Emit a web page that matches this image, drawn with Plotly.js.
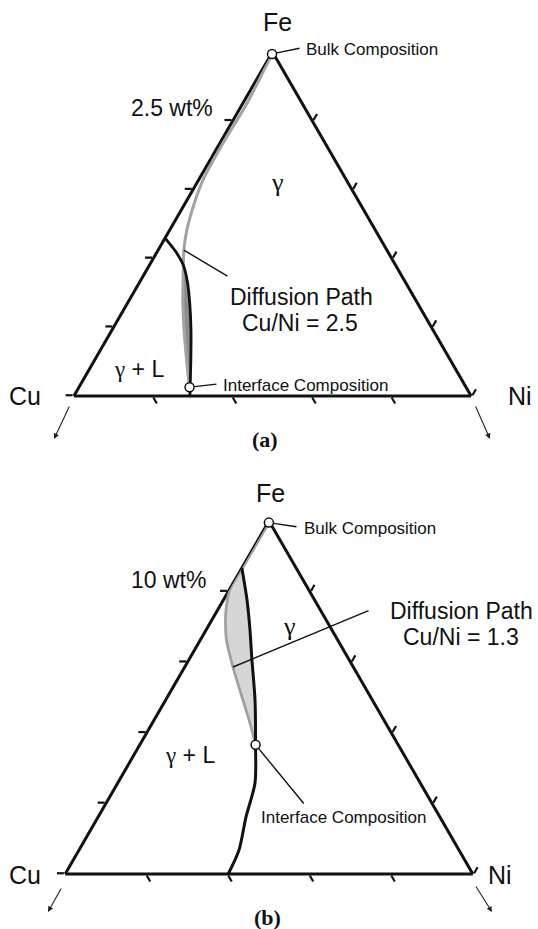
<!DOCTYPE html>
<html>
<head>
<meta charset="utf-8">
<script src="https://cdn.plot.ly/plotly-3.0.1.min.js"></script>
<style>
  html, body { margin: 0; padding: 0; background: #fff; }
  #chart { width: 538px; height: 929px; }
</style>
</head>
<body>
<div id="chart"></div>
<script>
// ---------- (a) Cu/Ni = 2.5, Fe-rich corner (wt%) ----------
const bulkA = { fe: [99.93], cu: [0.05], ni: [0.02] };
const interfaceA = { fe: [87.82], cu: [8.70], ni: [3.48] };

// diffusion path, bulk -> interface
const pathA_Fe = [99.93, 98.14, 96.69, 95.34, 94.36, 93.53, 92.80, 92.25, 91.71, 90.80, 89.70, 88.62, 87.82];
const pathA_Cu = [0.05, 1.73, 3.21, 4.52, 5.32, 5.93, 6.39, 6.68, 6.96, 7.42, 7.92, 8.38, 8.70];
const pathA_Ni = [0.02, 0.13, 0.10, 0.14, 0.32, 0.54, 0.81, 1.07, 1.33, 1.78, 2.38, 3.00, 3.48];

// gamma / gamma+L boundary
const bdyA_Fe = [93.24, 92.73, 92.25, 91.63, 90.80, 89.89, 88.80, 87.50];
const bdyA_Cu = [6.76, 6.67, 6.68, 6.86, 7.20, 7.62, 8.17, 8.85];
const bdyA_Ni = [0.00, 0.60, 1.07, 1.51, 2.00, 2.49, 3.03, 3.65];

const ticksA = { fe: [87.5, 90, 92.5, 95, 97.5], cu: [2.5, 5, 7.5, 10], ni: [2.5, 5, 7.5, 10, 12.5] };

// ---------- (b) Cu/Ni = 1.3, wider composition window (wt%) ----------
const bulkB = { fe: [99.77], cu: [0.13], ni: [0.10] };
const interfaceB = { fe: [68.30], cu: [17.50], ni: [14.20] };

const pathB_Fe = [99.77, 93.48, 90.23, 87.39, 85.27, 83.15, 79.32, 75.07, 71.39, 68.30];
const pathB_Cu = [0.13, 6.45, 9.70, 11.58, 12.70, 13.64, 14.76, 15.78, 16.64, 17.50];
const pathB_Ni = [0.10, 0.07, 0.07, 1.03, 2.03, 3.21, 5.92, 9.15, 11.97, 14.20];

const bdyB_Fe = [93.34, 88.81, 84.56, 80.74, 74.65, 68.30, 62.89, 58.07, 53.40, 50.00];
const bdyB_Cu = [6.66, 8.29, 10.05, 11.75, 14.39, 17.50, 20.27, 23.79, 26.98, 30.00];
const bdyB_Ni = [0.00, 2.90, 5.39, 7.51, 10.96, 14.20, 16.84, 18.14, 19.62, 20.00];

const ticksB = { fe: [50, 60, 70, 80, 90], cu: [10, 20, 30, 40], ni: [10, 20, 30, 40, 50] };

// ---------- page geometry ----------
const W = 538, H = 929;
const SANS = 'Liberation Sans, Arial, sans-serif';
const SERIF = 'Liberation Serif, Times New Roman, serif';
const INK = '#111';
const GAMMA = '<span style="font-family:Liberation Serif, serif">γ</span>';

function domainFromPixels(cx, top, bottom) {
  return { x: [(cx - 215) / W, (cx + 215) / W], y: [1 - bottom / H, 1 - top / H] };
}

function axis(vals, min) {
  return {
    min: min, tickmode: 'array', tickvals: vals, ticks: 'outside', ticklen: 7, tickwidth: 2.2,
    tickcolor: INK, showticklabels: false, showgrid: false, showline: true,
    linecolor: INK, linewidth: 3, layer: 'below traces', title: { text: '' }
  };
}

function ternary(dom, amin, t) {
  return {
    domain: dom, sum: 100, bgcolor: 'rgba(0,0,0,0)',
    aaxis: axis(t.fe, amin), baxis: axis(t.cu, 0), caxis: axis(t.ni, 0)
  };
}

const ternA = ternary(domainFromPixels(272.5, 52, 396), 87.5, ticksA);
const ternB = ternary(domainFromPixels(269, 521, 874), 50, ticksB);

// position of a composition on the page (same rule the ternary subplot uses to fit its triangle)
function compToPixel(tern, fe, cu, ni) {
  const [x0f, x1f] = tern.domain.x, [y0f, y1f] = tern.domain.y;
  const hmax = (y1f - y0f) * H, wmax = (x1f - x0f) * W;
  let h, w;
  if (wmax > hmax * 2 / Math.sqrt(3)) { h = hmax; w = h * 2 / Math.sqrt(3); }
  else { w = wmax; h = w * Math.sqrt(3) / 2; }
  const X0 = W * (x0f + x1f) / 2 - w / 2, Y0 = H * (1 - (y0f + y1f) / 2) - h / 2;
  const span = 100 - tern.aaxis.min;
  const a = (fe - tern.aaxis.min) / span, c = ni / span;
  return [X0 + w * (c + a / 2), Y0 + h * (1 - a)];
}

function slice(fe, cu, ni, i, j) {
  return { a: fe.slice(i, j), b: cu.slice(i, j), c: ni.slice(i, j) };
}

function bandTrace(sub, path, bdy, color) {
  return {
    type: 'scatterternary', subplot: sub, mode: 'lines', fill: 'toself', fillcolor: color,
    a: path.a.concat(bdy.a.slice().reverse()),
    b: path.b.concat(bdy.b.slice().reverse()),
    c: path.c.concat(bdy.c.slice().reverse()),
    line: { width: 0, shape: 'spline', smoothing: 0.6 }, hoverinfo: 'skip'
  };
}

function lineTrace(sub, fe, cu, ni, color, width) {
  return {
    type: 'scatterternary', subplot: sub, mode: 'lines', a: fe, b: cu, c: ni,
    line: { color: color, width: width, shape: 'spline', smoothing: 0.8 }, hoverinfo: 'skip'
  };
}

function pointTrace(sub, pts) {
  return {
    type: 'scatterternary', subplot: sub, mode: 'markers', cliponaxis: false,
    a: pts.map(p => p.fe[0]), b: pts.map(p => p.cu[0]), c: pts.map(p => p.ni[0]),
    marker: { symbol: 'circle', size: 9, color: '#fff', line: { color: INK, width: 1.5 } },
    hoverinfo: 'skip'
  };
}

const traces = [
  // (a)
  bandTrace('ternary',
    slice(pathA_Fe, pathA_Cu, pathA_Ni, 7),
    slice(bdyA_Fe, bdyA_Cu, bdyA_Ni, 2, 7), '#8c8c8c'),
  lineTrace('ternary', pathA_Fe, pathA_Cu, pathA_Ni, '#a3a3a3', 3),
  lineTrace('ternary', bdyA_Fe, bdyA_Cu, bdyA_Ni, INK, 2.8),
  pointTrace('ternary', [bulkA, interfaceA]),
  // (b)
  bandTrace('ternary2',
    slice(pathB_Fe, pathB_Cu, pathB_Ni, 1),
    slice(bdyB_Fe, bdyB_Cu, bdyB_Ni, 0, 5), '#d6d6d6'),
  lineTrace('ternary2', pathB_Fe, pathB_Cu, pathB_Ni, '#a0a0a0', 2.8),
  lineTrace('ternary2', bdyB_Fe, bdyB_Cu, bdyB_Ni, INK, 3),
  pointTrace('ternary2', [bulkB, interfaceB])
];

// ---------- labels ----------
function label(text, x, y, size, opts) {
  return Object.assign({
    text: text, xref: 'paper', yref: 'paper', x: x / W, y: 1 - y / H,
    xanchor: 'center', yanchor: 'middle', showarrow: false,
    font: { family: SANS, size: size, color: INK }
  }, opts || {});
}

// leader line from a composition point to a label
function leader(tern, comp, i, tailX, tailY, standoff) {
  const [px, py] = compToPixel(tern, comp.fe[i], comp.cu[i], comp.ni[i]);
  return {
    text: '', xref: 'paper', yref: 'paper', x: px / W, y: 1 - py / H,
    ax: tailX - px, ay: tailY - py, showarrow: true, arrowhead: 0,
    arrowwidth: 1.4, arrowcolor: INK, standoff: standoff
  };
}

// arrow pointing away from a corner
function cornerArrow(x0, y0, x1, y1) {
  return {
    text: '', xref: 'paper', yref: 'paper', x: x1 / W, y: 1 - y1 / H,
    ax: x0 - x1, ay: y0 - y1, showarrow: true, arrowhead: 2, arrowsize: 1,
    arrowwidth: 1.1, arrowcolor: '#222'
  };
}

const pathPtA = { fe: pathA_Fe, cu: pathA_Cu, ni: pathA_Ni };
const pathPtB = { fe: pathB_Fe, cu: pathB_Cu, ni: pathB_Ni };
const captionFont = { family: SERIF, size: 22, color: INK };

const annotations = [
  // (a)
  label('Fe', 277, 22, 25),
  label('Bulk Composition', 304, 50, 17, { xanchor: 'left' }),
  label('2.5 wt%', 172, 108, 23),
  label(GAMMA, 277, 183, 26),
  label('Diffusion Path', 301, 297, 23),
  label('Cu/Ni = 2.5', 300, 323, 23),
  label(GAMMA + ' + L', 139, 369, 23),
  label('Interface Composition', 221, 385, 17, { xanchor: 'left' }),
  label('Cu', 25, 396, 25),
  label('Ni', 520, 396, 25),
  label('<b>(a)</b>', 265, 440, 22, { font: captionFont }),
  leader(ternA, bulkA, 0, 301, 48, 5),
  leader(ternA, pathPtA, 6, 229, 277, 0),
  leader(ternA, interfaceA, 0, 218, 384, 5),
  cornerArrow(70, 405, 54, 439),
  cornerArrow(475, 405, 490, 439),
  // (b)
  label('Fe', 270, 493, 25),
  label('Bulk Composition', 302, 528, 17, { xanchor: 'left' }),
  label('10 wt%', 168, 580, 23),
  label(GAMMA, 289, 626, 26),
  label('Diffusion Path', 461, 611, 23),
  label('Cu/Ni = 1.3', 461, 637, 23),
  label(GAMMA + ' + L', 190, 755, 23),
  label('Interface Composition', 259, 817, 17, { xanchor: 'left' }),
  label('Cu', 25, 875, 25),
  label('Ni', 500, 875, 25),
  label('<b>(b)</b>', 267, 917, 22, { font: captionFont }),
  leader(ternB, bulkB, 0, 298, 527, 5),
  leader(ternB, pathPtB, 6, 370, 610, 0),
  leader(ternB, interfaceB, 0, 305, 805, 5),
  cornerArrow(62, 887, 48, 912),
  cornerArrow(475, 885, 492, 912)
];

const layout = {
  width: W, height: H,
  margin: { l: 0, r: 0, t: 0, b: 0 },
  paper_bgcolor: '#fff',
  showlegend: false, hovermode: false,
  ternary: ternA, ternary2: ternB,
  annotations: annotations
};

Plotly.newPlot('chart', traces, layout, { staticPlot: true, displayModeBar: false });
</script>
</body>
</html>
